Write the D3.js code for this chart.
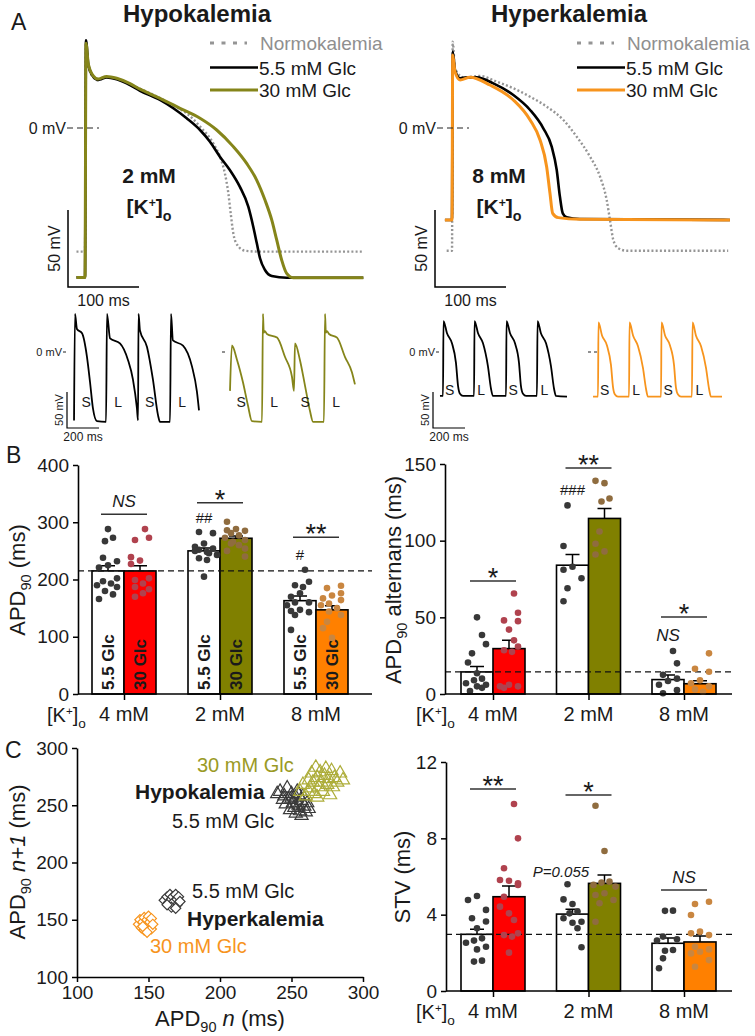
<!DOCTYPE html>
<html><head><meta charset="utf-8">
<script src="https://cdn.jsdelivr.net/npm/d3@7/dist/d3.min.js"></script>
<style>
html,body{margin:0;padding:0;background:#fff;}
svg text{font-family:"Liberation Sans",Arial,Helvetica,sans-serif;fill:#1a1a1a;}
</style></head>
<body><svg id="fig" width="755" height="1036"></svg>
<script>
// ================= DATA =================
// Panel A: action potentials, [time (ms), Vm (mV)]
const hypoNormo = [[-12,-80.3],[0,-80.3],[1.4,55],[4.7,40],[11.7,33],[18.7,31],[30.5,33],[44.6,32],[63.4,28.5],[77.5,25.5],[105.6,19.5],[124.4,14.5],[143.2,9.5],[162,1],[180.7,-10],[190,-18.6],[197,-29.4],[201.9,-42.4],[205.2,-55.4],[208.9,-68.4],[214.5,-76],[225.4,-79.7],[246.5,-80.3],[392,-80.3]];
const hypoGlc55 = [[-12,-97],[0,-97],[1.4,57],[4.7,41],[11.7,33.3],[18.7,31.2],[30.5,32.9],[44.6,31.6],[63.4,27.9],[77.5,24.2],[105.6,18.2],[124.4,12.8],[143.2,6.3],[162,-1.3],[176,-8.9],[190,-18.6],[204,-27.3],[218,-38.1],[230,-51.1],[237,-64.1],[242,-74.9],[246.5,-84.6],[253.5,-92.2],[263,-96.1],[284,-97.2],[392,-97.2]];
const hypoGlc30 = [[-12,-97],[0,-97],[1.4,55],[4.7,41.5],[11.7,33.8],[18.7,31.8],[30.5,33.5],[44.6,32.3],[63.4,28.8],[77.5,25.2],[105.6,19.3],[133.8,12.8],[162,6.3],[185.5,-1.3],[208.9,-12.1],[227.7,-23],[241.8,-33.8],[253.5,-46.8],[263,-59.7],[270,-72.7],[277,-85.7],[284,-94.4],[293,-97.2],[392,-97.2]];
const hyperNormo = [[-7.5,-79.7],[0,-79.7],[1,56],[4.2,38.7],[16,32.9],[39.4,33.8],[63,30.1],[86.4,25.8],[110,20.3],[133.3,13.9],[156.8,5.2],[175.6,-5.6],[194.4,-18.6],[208.5,-31.6],[217.9,-46.8],[222.5,-59.7],[227.2,-72.7],[234.2,-78.1],[246,-79.7],[389,-79.7]];
const hyperGlc55 = [[-10,-59.7],[0,-59.7],[1,49.6],[4.2,37.7],[11.3,32.3],[20.7,32.9],[34.7,32.9],[58.2,29],[86.4,21.4],[110,11.7],[128.6,-0.2],[140.4,-12.1],[147.5,-27.3],[152,-44.6],[156,-55.4],[161.5,-58],[180,-59.1],[391.5,-59.7]];
const hyperGlc30 = [[-10,-59.7],[0,-59.7],[1,47.4],[4.2,36.6],[11.3,31.2],[25.4,32.9],[53.5,27.9],[86.4,18.2],[110,5.2],[124,-7.8],[133.3,-25.1],[138,-42.4],[141.8,-55.4],[149.7,-58.2],[180,-59.3],[391.5,-59.7]];

// Panel A: alternans traces (S/L beats), [time (ms), Vm (mV)]
const altHypo55 = [[-6,-95],[0,53],[12,32],[44,26],[75,-7],[94,-42],[112,-78],[137,-96],[194,-97],[200,53],[219,19],[281,12],[331,-11],[362,-38],[387,-78],[394,-95],[397,53],[406,30],[450,7],[487,-38],[519,-88],[531,-97],[594,-97],[600,53],[612,16],[675,9],[731,-20],[762,-55],[775,-81]];
const altHypo30 = [[0,-54],[12,9],[44,-11],[81,-42],[112,-74],[137,-96],[200,-97],[206,53],[211,27],[218,29],[231,25],[294,20],[344,-7],[387,-34],[400,-54],[406,12],[437,-11],[469,-47],[500,-82],[519,-97],[587,-97],[594,53],[599,27],[606,29],[619,25],[669,20],[719,-7],[762,-28],[781,-45]];
const altHyper55 = [[-19,-61],[0,-61],[3,43],[25,26],[56,12],[81,-15],[94,-47],[106,-58],[125,-61],[194,-61],[197,43],[219,26],[250,12],[281,-20],[300,-51],[312,-61],[394,-61],[397,43],[419,26],[450,12],[475,-15],[487,-47],[500,-58],[519,-61],[587,-61],[591,43],[612,26],[644,12],[675,-20],[694,-51],[706,-61],[775,-62]];
const altHyper30 = [[-31,-62],[0,-62],[3,41],[25,23],[56,9],[81,-18],[94,-49],[106,-59],[125,-62],[194,-62],[197,41],[219,23],[250,8],[281,-22],[300,-51],[312,-62],[394,-62],[397,41],[419,23],[450,9],[475,-18],[487,-49],[500,-59],[519,-62],[587,-62],[591,41],[612,23],[644,8],[675,-22],[694,-51],[706,-62],[775,-62]];
const beatLabels = ["S","L","S","L"];
const onsetsHypo55 = [0,200,397,600];
const onsetsHypo30 = [0,206,400,594];
const onsetsHyper = [0,197,397,591];

// Panels B/C: bar charts
const groups = ["4 mM","2 mM","8 mM"];
const apdTicks = [0,100,200,300,400];
const apdMean55 = [215,250,163], apdSem55 = [9,5,8];
const apdMean30 = [215,272,147], apdSem30 = [9,4,7];
const apdDots55 = [[288,273,267,238,232,225,221,202,197,193,190,187,180,174,166],[283,281,263,257,254,252,250,248,246,243,237,234,205],[217,196,190,187,176,170,160,160,155,147,145,143,138,112]];
const apdDots30 = [[288,273,269,239,233,227,202,199,193,187,183,176,170],[301,288,286,285,281,277,273,269,266,263,260,254,250,240],[189,185,176,172,167,164,158,155,150,144,138,126,115,98]];
const apdRef = 215;
const apdSig = ["NS","*","**"], apdSigLevel = [314,334,274];
const apdHash = ["##","#"];

const altTicks = [0,50,100,150];
const altMean55 = [14.4,84,9.4], altSem55 = [3.6,7,3];
const altMean30 = [29.6,114.5,6.7], altSem30 = [5.4,6.5,2];
const altDots55 = [[50,38.5,32.5,26.5,20.5,13.5,10,9,7,6,5,4,2],[123,96.5,83,81,75.5,69,60.5],[28,20,12.5,10,8.5,6,2.5,0.5]];
const altDots30 = [[65.5,53,48,47.5,42,35,31,28.5,27.5,6,5,5,4],[139,137.5,127.5,125.5,106,98,93,91],[26.5,16.5,14.5,9,7,5,3,1.5]];
const altRef = 14.4;
const altSig = ["*","**","*"], altSigLevel = [73.7,147.4,50.2];

const stvTicks = [0,4,8,12];
const stvMean55 = [2.97,4.03,2.5], stvSem55 = [0.26,0.25,0.28];
const stvMean30 = [4.94,5.64,2.57], stvSem30 = [0.56,0.44,0.31];
const stvDots55 = [[4.98,4.77,4.25,3.81,3.64,3.29,2.76,2.64,2.53,2.32,2.18,1.59,1.54],[5.59,4.8,4.56,4.16,4.07,3.81,3.63,3.58,3.29,2.29],[4.21,4.2,2.85,2.71,2.64,2.15,2.11,1.71,1.19]];
const stvDots30 = [[9.8,8.0,6.43,5.82,5.78,5.64,5.56,4.94,4.42,4.07,3.72,3.02,2.93,2.85,2.01],[9.71,7.34,5.73,5.68,5.56,5.47,5.12,5.03,4.77,4.6,3.63],[4.68,4.56,3.98,3.11,3.02,2.93,2.32,2.18,2.06,1.97,1.62,1.27]];
const stvRef = 2.97;
const stvSig = ["**","*","NS"], stvSigLevel = [10.59,10.27,5.29];

// Panel C: Poincaré plot, [APD90 n, APD90 n+1] (ms)
const scatTicks = [100,150,200,250,300];
const scatHypo55 = [[242,262],[245,258],[247,265],[248,255],[250,260],[251,252],[252,248],[253,257],[254,262],[255,250],[256,245],[257,254],[258,258],[259,249],[260,244],[261,252],[262,247],[246,251],[249,246],[253,243],[257,241],[244,255],[250,256],[255,259],[240,260]];
const scatHypo30 = [[256,262],[258,268],[260,258],[262,272],[263,265],[264,278],[265,270],[266,260],[267,283],[268,274],[269,266],[270,279],[271,270],[272,262],[273,276],[274,282],[275,268],[276,273],[277,259],[278,280],[279,266],[280,274],[282,270],[284,278],[286,272],[262,262],[268,257]];
const scatHyper55 = [[161,167],[163,170],[164,165],[165,172],[166,168],[167,163],[167,170],[168,166],[169,172],[170,168],[170,163],[171,170],[172,166],[166,161],[163,163],[169,160]];
const scatHyper30 = [[143,146],[144,150],[145,143],[146,148],[147,152],[147,141],[148,146],[149,150],[150,144],[150,153],[151,148],[152,142],[152,151],[153,146],[146,144],[149,139]];

// ================= DRAWING =================
const svg = d3.select("#fig");
const OLIVE = "#85851a", ORANGE = "#f7941d", GRAYL = "#959595";

function txt(g, x, y, s, size, o = {}) {
  const t = g.append("text").attr("x", x).attr("y", y).attr("font-size", size).text(s);
  if (o.anchor) t.attr("text-anchor", o.anchor);
  if (o.weight) t.attr("font-weight", o.weight);
  if (o.style) t.attr("font-style", o.style);
  if (o.fill) t.style("fill", o.fill);
  if (o.rotate) t.attr("transform", `rotate(${o.rotate},${x},${y})`);
  return t;
}
function kLabel(g, x, y, size, o = {}) {
  const t = g.append("text").attr("x", x).attr("y", y).attr("font-size", size);
  if (o.anchor) t.attr("text-anchor", o.anchor);
  if (o.weight) t.attr("font-weight", o.weight);
  t.append("tspan").text("[K");
  t.append("tspan").text("+").attr("font-size", size * 0.58).attr("dy", -size * 0.33);
  t.append("tspan").text("]").attr("dy", size * 0.33);
  t.append("tspan").text("o").attr("font-size", size * 0.68).attr("dy", size * 0.32);
  return t;
}
function apdLabel(g, x, y, size, rest, o = {}) {
  const t = g.append("text").attr("x", x).attr("y", y).attr("font-size", size);
  if (o.anchor) t.attr("text-anchor", o.anchor);
  if (o.rotate) t.attr("transform", `rotate(${o.rotate},${x},${y})`);
  t.append("tspan").text("APD");
  t.append("tspan").text("90").attr("font-size", size * 0.66).attr("dy", size * 0.28);
  rest.forEach((r, i) => {
    const s = t.append("tspan").text(r[0]);
    if (i === 0) s.attr("dy", -size * 0.28);
    if (r[1]) s.attr("font-style", "italic");
  });
  return t;
}
const lineGen = (xs, ys) => d3.line().x(d => xs(d[0])).y(d => ys(d[1])).curve(d3.curveMonotoneX);

// ---- Panel labels
txt(svg, 11, 30, "A", 23);
txt(svg, 6, 463, "B", 23);
txt(svg, 5, 758, "C", 23);

// ---- Panel A big traces
function bigPanel(c) {
  const g = svg.append("g");
  const xs = d3.scaleLinear().domain([0, 100]).range([c.x0, c.x0 + 71]);
  const ys = d3.scaleLinear().domain([0, 50]).range([128, 51]);
  const lg = lineGen(xs, ys);
  g.append("path").attr("d", lg(c.normo)).attr("fill", "none").attr("stroke", GRAYL).attr("stroke-width", 2.4).attr("stroke-dasharray", "2,2.2");
  g.append("path").attr("d", lg(c.g55)).attr("fill", "none").attr("stroke", "#000").attr("stroke-width", 2.6);
  g.append("path").attr("d", lg(c.g30)).attr("fill", "none").attr("stroke", c.color).attr("stroke-width", 3);
  txt(g, c.zeroX, ys(0) + 5.5, "0 mV", 16, { anchor: "end" });
  g.append("line").attr("x1", c.zeroX + 1).attr("x2", c.zeroX + 33).attr("y1", ys(0)).attr("y2", ys(0))
    .attr("stroke", "#222").attr("stroke-width", 1.2).attr("stroke-dasharray", "6,4");
  const sby = 287, h = ys(0) - ys(50), w = xs(100) - xs(0);
  g.append("path").attr("d", `M${c.sbx},${sby - h}V${sby}H${c.sbx + w}`).attr("fill", "none").attr("stroke", "#000").attr("stroke-width", 1.5);
  txt(g, c.sbx + w / 2, 306, "100 ms", 16, { anchor: "middle" });
  txt(g, c.sbx - 8, sby - h / 2, "50 mV", 16, { anchor: "middle", rotate: -90 });
  txt(g, c.concX, 183, c.conc, 21, { anchor: "middle", weight: "bold" });
  kLabel(g, c.concX, 214, 21, { anchor: "middle", weight: "bold" });
  txt(g, c.titleX, 22, c.title, 24, { anchor: "middle", weight: "bold" });
  const rows = [43, 67.5, 90];
  g.append("line").attr("x1", c.lx).attr("x2", c.lx + 37).attr("y1", rows[0]).attr("y2", rows[0])
    .attr("stroke", GRAYL).attr("stroke-width", 3).attr("stroke-dasharray", "4,7.5");
  txt(g, c.lx + 50, rows[0] + 7, "Normokalemia", 19, { fill: "#8f8f8f" });
  g.append("line").attr("x1", c.lx).attr("x2", c.lx + 48).attr("y1", rows[1]).attr("y2", rows[1]).attr("stroke", "#000").attr("stroke-width", 2.6);
  txt(g, c.lx + 49, rows[1] + 7, "5.5 mM Glc", 19);
  g.append("line").attr("x1", c.lx).attr("x2", c.lx + 48).attr("y1", rows[2]).attr("y2", rows[2]).attr("stroke", c.color).attr("stroke-width", 3);
  txt(g, c.lx + 49, rows[2] + 7, "30 mM Glc", 19);
}
bigPanel({ x0: 85, normo: hypoNormo, g55: hypoGlc55, g30: hypoGlc30, color: OLIVE, zeroX: 66, sbx: 68, concX: 149, conc: "2 mM", titleX: 197, title: "Hypokalemia", lx: 210 });
bigPanel({ x0: 452, normo: hyperNormo, g55: hyperGlc55, g30: hyperGlc30, color: ORANGE, zeroX: 436, sbx: 435, concX: 499, conc: "8 mM", titleX: 569, title: "Hyperkalemia", lx: 577 });

// ---- Panel A alternans traces
const smallY = d3.scaleLinear().domain([0, 50]).range([352, 316]);
function smallTrace(data, x0, color, onsets, labDt, labY) {
  const g = svg.append("g");
  const xs = d3.scaleLinear().domain([0, 200]).range([x0, x0 + 32]);
  g.append("path").attr("d", lineGen(xs, smallY)(data)).attr("fill", "none").attr("stroke", color).attr("stroke-width", 1.8);
  onsets.forEach((o, i) => txt(g, xs(o + labDt), labY, beatLabels[i], 14, { anchor: "middle" }));
}
smallTrace(altHypo55, 75, "#000", onsetsHypo55, 70, 407);
smallTrace(altHypo30, 230, OLIVE, onsetsHypo30, 70, 407);
smallTrace(altHyper55, 443, "#000", onsetsHyper, 42, 395);
smallTrace(altHyper30, 598, ORANGE, onsetsHyper, 42, 395);
function smallDecor(zeroEnd, withText, dashLen, sbx) {
  const g = svg.append("g");
  if (withText) txt(g, zeroEnd - 1, smallY(0) + 4, "0 mV", 11, { anchor: "end" });
  g.append("line").attr("x1", zeroEnd).attr("x2", zeroEnd + dashLen).attr("y1", smallY(0)).attr("y2", smallY(0))
    .attr("stroke", "#222").attr("stroke-width", 1).attr("stroke-dasharray", "3,3");
  if (sbx !== undefined) {
    const h = smallY(0) - smallY(50), w = 32;
    g.append("path").attr("d", `M${sbx},${428 - h}V428H${sbx + w}`).attr("fill", "none").attr("stroke", "#000").attr("stroke-width", 1.2);
    txt(g, sbx - 4, 428 - h / 2, "50 mV", 11, { anchor: "middle", rotate: -90 });
    txt(g, sbx + 16, 441, "200 ms", 12, { anchor: "middle" });
  }
}
smallDecor(63, true, 4, 67);
smallDecor(222, false, 4);
smallDecor(436, true, 4, 433);
smallDecor(588, false, 9);

// ---- Bar panels
function swarm(vals, cx, y, r, seed) {
  const placed = [], out = new Array(vals.length);
  const base = [0, -5, 5, -9, 9, -3, 3, -7, 7, -11, 11, -13, 13];
  vals.map((v, i) => i).sort((a, b) => vals[b] - vals[a]).forEach((i, k) => {
    const py = y(vals[i]);
    const sh = (k * 2 + seed) % 5;
    const offs = base.slice(sh).concat(base.slice(0, sh));
    let px = cx + offs[0];
    for (const o of offs) {
      const c = cx + o;
      if (placed.every(p => Math.hypot(p[0] - c, p[1] - py) >= 2 * r + 0.2)) { px = c; break; }
    }
    placed.push([px, py]); out[i] = [px, py];
  });
  return out;
}
function styleAxis(a) {
  a.attr("font-size", 19);
  a.select(".domain").attr("stroke-width", 1.6);
  a.selectAll(".tick line").attr("stroke-width", 1.5);
}
function barPanel(c) {
  const g = svg.append("g");
  const y = d3.scaleLinear().domain([c.ticks[0], c.ticks[c.ticks.length - 1]]).range([c.yb, c.yt]);
  const xc = d3.scalePoint().domain(groups).range(c.centers);
  const bw = 32;
  groups.forEach((gn, i) => {
    const cx = xc(gn);
    g.append("rect").attr("x", cx - bw).attr("y", y(c.m55[i])).attr("width", bw).attr("height", y(0) - y(c.m55[i]))
      .attr("fill", "#fff").attr("stroke", "#000").attr("stroke-width", 1.6);
    g.append("rect").attr("x", cx).attr("y", y(c.m30[i])).attr("width", bw).attr("height", y(0) - y(c.m30[i]))
      .attr("fill", c.fills[i]).attr("stroke", "#000").attr("stroke-width", 1.6);
    [[cx - bw / 2, c.m55[i], c.s55[i]], [cx + bw / 2, c.m30[i], c.s30[i]]].forEach(([bx, m, s]) => {
      g.append("path").attr("d", `M${bx},${y(m)}V${y(m + s)}M${bx - 7},${y(m + s)}H${bx + 7}`).attr("stroke", "#000").attr("stroke-width", 1.5).attr("fill", "none");
    });
    if (c.barText) {
      txt(g, cx - bw / 2 + 6, c.yb - 4, "5.5 Glc", 17, { weight: "bold", rotate: -90 });
      txt(g, cx + bw / 2 + 6, c.yb - 4, "30 Glc", 17, { weight: "bold", rotate: -90 });
    }
  });
  g.append("line").attr("x1", c.ax).attr("x2", c.axEnd).attr("y1", y(c.ref)).attr("y2", y(c.ref))
    .attr("stroke", "#111").attr("stroke-width", 1.3).attr("stroke-dasharray", "6,4");
  const r = 3.3;
  groups.forEach((gn, i) => {
    const cx = xc(gn);
    swarm(c.d55[i], cx - bw / 2, y, r, i).forEach(p => g.append("circle").attr("cx", p[0]).attr("cy", p[1]).attr("r", r).attr("fill", "#383838"));
    swarm(c.d30[i], cx + bw / 2, y, r, i + 2).forEach(p => g.append("circle").attr("cx", p[0]).attr("cy", p[1]).attr("r", r).attr("fill", c.dotCols[i]));
  });
  const ya = g.append("g").attr("transform", `translate(${c.ax},0)`)
    .call(d3.axisLeft(y).tickValues(c.ticks).tickSize(5).tickPadding(4).tickSizeOuter(0));
  styleAxis(ya);
  g.append("line").attr("x1", c.ax).attr("x2", c.axEnd).attr("y1", y(0)).attr("y2", y(0)).attr("stroke", "#000").attr("stroke-width", 1.6);
  const xa = g.append("g").attr("transform", `translate(0,${y(0)})`)
    .call(d3.axisBottom(xc).tickSize(6).tickFormat(""));
  xa.select(".domain").remove();
  xa.selectAll(".tick line").attr("stroke-width", 1.5);
  kLabel(g, c.kx, y(0) + 28, 20);
  groups.forEach(gn => txt(g, xc(gn), y(0) + 27, gn, 20, { anchor: "middle" }));
  groups.forEach((gn, i) => {
    const cx = xc(gn), ly = y(c.sigLevel[i]);
    g.append("line").attr("x1", cx - 23).attr("x2", cx + 23).attr("y1", ly).attr("y2", ly).attr("stroke", "#333").attr("stroke-width", 1.5);
    if (c.sig[i] === "NS") txt(g, cx, ly - 7, "NS", 17, { anchor: "middle", style: "italic" });
    else txt(g, cx, ly + 6, c.sig[i], 27, { anchor: "middle" });
  });
  return { g, y, xc };
}

const pB1 = barPanel({ ticks: apdTicks, yb: 694, yt: 465, centers: [124, 316], ax: 78, axEnd: 372, kx: 47,
  m55: apdMean55, s55: apdSem55, m30: apdMean30, s30: apdSem30, d55: apdDots55, d30: apdDots30,
  fills: ["#ff0000", "#808000", "#ff8000"], dotCols: ["#b0424e", "#8f6c3f", "#c98640"], ref: apdRef,
  sig: apdSig, sigLevel: apdSigLevel, barText: true });
apdLabel(pB1.g, 25, 580, 22, [[" (ms)"]], { anchor: "middle", rotate: -90 });
txt(pB1.g, pB1.xc("2 mM") - 16, 523, apdHash[0], 15, { anchor: "middle" });
txt(pB1.g, pB1.xc("8 mM") - 16, 560, apdHash[1], 15, { anchor: "middle" });

const pB2 = barPanel({ ticks: altTicks, yb: 694, yt: 464, centers: [493, 684], ax: 445, axEnd: 732, kx: 416,
  m55: altMean55, s55: altSem55, m30: altMean30, s30: altSem30, d55: altDots55, d30: altDots30,
  fills: ["#ff0000", "#808000", "#ff8000"], dotCols: ["#b0424e", "#8f6c3f", "#c98640"], ref: altRef,
  sig: altSig, sigLevel: altSigLevel });
apdLabel(pB2.g, 401, 580, 22, [[" alternans (ms)"]], { anchor: "middle", rotate: -90 });
txt(pB2.g, pB2.xc("2 mM") - 16, 495, "###", 15, { anchor: "middle" });
txt(pB2.g, pB2.xc("8 mM") - 16, 641, "NS", 17, { anchor: "middle", style: "italic" });

const pC2 = barPanel({ ticks: stvTicks, yb: 991, yt: 762, centers: [493, 684], ax: 446, axEnd: 732, kx: 416,
  m55: stvMean55, s55: stvSem55, m30: stvMean30, s30: stvSem30, d55: stvDots55, d30: stvDots30,
  fills: ["#ff0000", "#808000", "#ff8000"], dotCols: ["#b0424e", "#8f6c3f", "#c98640"], ref: stvRef,
  sig: stvSig, sigLevel: stvSigLevel });
txt(pC2.g, 410, 877, "STV (ms)", 22, { anchor: "middle", rotate: -90 });
txt(pC2.g, 561, 877, "P=0.055", 15, { anchor: "middle", style: "italic" });

// ---- Panel C scatter
(function () {
  const g = svg.append("g");
  const xs = d3.scaleLinear().domain([100, 300]).range([77, 363]);
  const ys = d3.scaleLinear().domain([100, 300]).range([977, 748]);
  const tri = d3.symbol(d3.symbolTriangle, 75)();
  const sq = d3.symbol(d3.symbolSquare, 52)();
  scatHypo55.forEach(d => g.append("path").attr("d", tri).attr("transform", `translate(${xs(d[0])},${ys(d[1])})`)
    .attr("fill", "none").attr("stroke", "#3a3a3a").attr("stroke-width", 1.2));
  scatHypo30.forEach(d => g.append("path").attr("d", tri).attr("transform", `translate(${xs(d[0])},${ys(d[1])})`)
    .attr("fill", "none").attr("stroke", "#adad3a").attr("stroke-width", 1.2));
  scatHyper55.forEach(d => g.append("path").attr("d", sq).attr("transform", `translate(${xs(d[0])},${ys(d[1])}) rotate(45)`)
    .attr("fill", "#fff").attr("stroke", "#3a3a3a").attr("stroke-width", 1.2));
  scatHyper30.forEach(d => g.append("path").attr("d", sq).attr("transform", `translate(${xs(d[0])},${ys(d[1])}) rotate(45)`)
    .attr("fill", "#fff").attr("stroke", ORANGE).attr("stroke-width", 1.2));
  const ya = g.append("g").attr("transform", "translate(77,0)")
    .call(d3.axisLeft(ys).tickValues(scatTicks).tickSize(5).tickPadding(4).tickSizeOuter(0));
  const xa = g.append("g").attr("transform", "translate(0,977)")
    .call(d3.axisBottom(xs).tickValues(scatTicks).tickSize(5).tickPadding(4).tickSizeOuter(0));
  styleAxis(ya); styleAxis(xa);
  apdLabel(g, 220, 1026, 22, [[" "], ["n", true], [" (ms)"]], { anchor: "middle" });
  apdLabel(g, 25, 862, 22, [[" "], ["n+1", true], [" (ms)"]], { anchor: "middle", rotate: -90 });
  txt(g, 197, 772, "30 mM Glc", 20, { fill: "#9a9a25" });
  txt(g, 135, 799, "Hypokalemia", 21, { weight: "bold" });
  txt(g, 172, 828, "5.5 mM Glc", 20);
  txt(g, 192, 898, "5.5 mM Glc", 20);
  txt(g, 187, 926, "Hyperkalemia", 21, { weight: "bold" });
  txt(g, 150, 953, "30 mM Glc", 20, { fill: ORANGE });
})();
</script></body></html>
